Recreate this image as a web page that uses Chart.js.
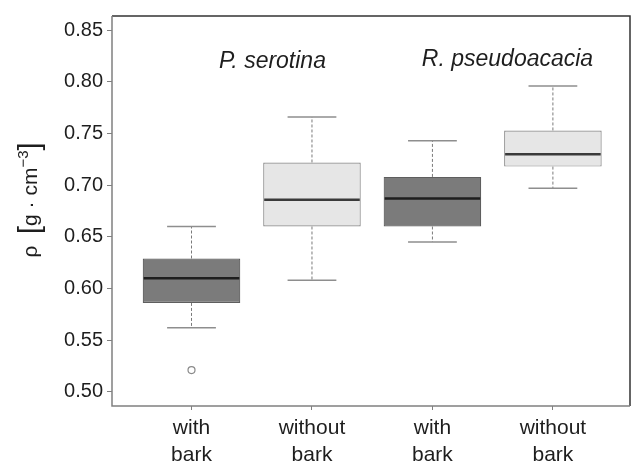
<!DOCTYPE html>
<html>
<head>
<meta charset="utf-8">
<script src="https://cdn.jsdelivr.net/npm/chart.js@4"></script>
<style>
  body { margin: 0; background: #fff; }
  #wrap { width: 631px; height: 463px; position: relative; }
</style>
</head>
<body>
<div id="wrap"><canvas id="graph"></canvas></div>
<script>
// box plot values
const groups = [['with', 'bark'], ['without', 'bark'], ['with', 'bark'], ['without', 'bark']];
const species = ['P. serotina', 'R. pseudoacacia'];
const whiskerLow = [0.562, 0.608, 0.645, 0.697];
const q1 = [0.586, 0.660, 0.660, 0.718];
const median = [0.610, 0.686, 0.687, 0.730];
const q3 = [0.629, 0.722, 0.708, 0.753];
const whiskerHigh = [0.660, 0.766, 0.743, 0.796];
const outliers = [[0.521], [], [], []];
const yTicks = [0.50, 0.55, 0.60, 0.65, 0.70, 0.75, 0.80, 0.85];

const dark = '#7b7b7b', light = '#e6e6e6';
const fills = [dark, light, dark, light];
const borders = ['#5e5e5e', '#8a8a8a', '#5e5e5e', '#8a8a8a'];
const FONT = '"Liberation Sans", Arial, sans-serif';

// y axis title with superscript, drawn rotated
function drawYTitle(ctx, cx, cy) {
  const parts = [
    { t: 'ρ', size: 21, dy: 0 },
    { t: '  ', size: 21, dy: 0 },
    { t: '[', size: 29, dy: 2 },
    { t: 'g · cm', size: 21, dy: 0 },
    { t: '−3', size: 15, dy: -9 },
    { t: ']', size: 29, dy: 2 }
  ];
  let total = 0;
  parts.forEach(p => { ctx.font = p.size + 'px ' + FONT; p.w = ctx.measureText(p.t).width; total += p.w; });
  ctx.save();
  ctx.translate(cx, cy);
  ctx.rotate(-Math.PI / 2);
  ctx.fillStyle = '#1e1e1e';
  ctx.textAlign = 'left';
  ctx.textBaseline = 'alphabetic';
  let x = -total / 2;
  parts.forEach(p => {
    ctx.font = p.size + 'px ' + FONT;
    ctx.fillText(p.t, x, 7 + p.dy);
    x += p.w;
  });
  ctx.restore();
}

// whiskers, medians, outliers, species names and the frame
const boxExtras = {
  id: 'boxExtras',
  afterDatasetsDraw(chart) {
    const ctx = chart.ctx;
    const ys = chart.scales.y, xs = chart.scales.x;
    const bars = chart.getDatasetMeta(0).data;
    ctx.save();
    bars.forEach((bar, i) => {
      const x = bar.x, half = bar.width / 2;
      // dashed whiskers
      ctx.strokeStyle = '#7a7a7a';
      ctx.lineWidth = 1;
      ctx.setLineDash([3, 2]);
      ctx.beginPath();
      ctx.moveTo(x, ys.getPixelForValue(q3[i]));
      ctx.lineTo(x, ys.getPixelForValue(whiskerHigh[i]));
      ctx.moveTo(x, ys.getPixelForValue(q1[i]));
      ctx.lineTo(x, ys.getPixelForValue(whiskerLow[i]));
      ctx.stroke();
      ctx.setLineDash([]);
      // caps
      ctx.strokeStyle = '#8e8e8e';
      ctx.lineWidth = 1.5;
      ctx.beginPath();
      [whiskerHigh[i], whiskerLow[i]].forEach(v => {
        const y = ys.getPixelForValue(v);
        ctx.moveTo(x - half / 2, y);
        ctx.lineTo(x + half / 2, y);
      });
      ctx.stroke();
      // median
      ctx.strokeStyle = i % 2 === 0 ? '#1e1e1e' : '#3a3a3a';
      ctx.lineWidth = 2.5;
      ctx.beginPath();
      const my = ys.getPixelForValue(median[i]);
      ctx.moveTo(x - half + 1, my);
      ctx.lineTo(x + half - 1, my);
      ctx.stroke();
      // outliers
      ctx.strokeStyle = '#8a8a8a';
      ctx.lineWidth = 1.2;
      outliers[i].forEach(v => {
        ctx.beginPath();
        ctx.arc(x, ys.getPixelForValue(v), 3.5, 0, Math.PI * 2);
        ctx.stroke();
      });
    });
    // species names
    ctx.fillStyle = '#1e1e1e';
    ctx.font = 'italic 23px ' + FONT;
    ctx.textAlign = 'center';
    ctx.textBaseline = 'middle';
    const namePos = [[1.672, 0.8196], [3.623, 0.8215]];
    species.forEach((s, k) => {
      ctx.fillText(s, xs.getPixelForValue(namePos[k][0]), ys.getPixelForValue(namePos[k][1]));
    });
    // frame
    const a = chart.chartArea;
    ctx.lineWidth = 1.5;
    ctx.strokeStyle = '#333';
    ctx.beginPath();
    ctx.moveTo(a.left, a.top);
    ctx.lineTo(a.right, a.top);
    ctx.lineTo(a.right, a.bottom);
    ctx.stroke();
    ctx.strokeStyle = '#808080';
    ctx.beginPath();
    ctx.moveTo(a.left, a.top);
    ctx.lineTo(a.left, a.bottom);
    ctx.lineTo(a.right, a.bottom);
    ctx.stroke();
    ctx.restore();
    drawYTitle(ctx, 30, 200);
  }
};

const data = {
  datasets: [{
    data: groups.map((g, i) => ({ x: i + 1, y: [q1[i], q3[i]] })),
    backgroundColor: fills,
    borderColor: borders,
    borderWidth: 1.2,
    borderSkipped: false,
    categoryPercentage: 0.81,
    barPercentage: 1
  }]
};

const config = {
  type: 'bar',
  data: data,
  plugins: [boxExtras],
  options: {
    responsive: true,
    maintainAspectRatio: false,
    animation: false,
    layout: { padding: { top: 14, right: 1, left: 0, bottom: 0 } },
    plugins: {
      legend: { display: false },
      tooltip: { enabled: false }
    },
    scales: {
      x: {
        type: 'linear',
        offset: false,
        min: 0.34,
        max: 4.64,
        afterBuildTicks: (scale) => { scale.ticks = groups.map((g, i) => ({ value: i + 1 })); },
        afterFit: (scale) => { scale.height = 57; },
        ticks: {
          callback: (v) => groups[Math.round(v) - 1],
          color: '#1e1e1e',
          font: { family: FONT, size: 21, lineHeight: 1.29 },
          padding: 5,
          maxRotation: 0,
          autoSkip: false
        },
        grid: { offset: false, drawOnChartArea: false, drawTicks: true, tickLength: 4, color: '#808080' },
        border: { display: false }
      },
      y: {
        min: 0.4862,
        max: 0.8638,
        afterBuildTicks: (scale) => { scale.ticks = yTicks.map(v => ({ value: v })); },
        afterFit: (scale) => { scale.width = 112; },
        ticks: {
          callback: (v) => v.toFixed(2),
          color: '#1e1e1e',
          font: { family: FONT, size: 20 },
          padding: 4
        },
        grid: { drawOnChartArea: false, drawTicks: true, tickLength: 5, color: '#808080' },
        border: { display: false }
      }
    }
  }
};

new Chart(document.getElementById('graph').getContext('2d'), config);
</script>
</body>
</html>
